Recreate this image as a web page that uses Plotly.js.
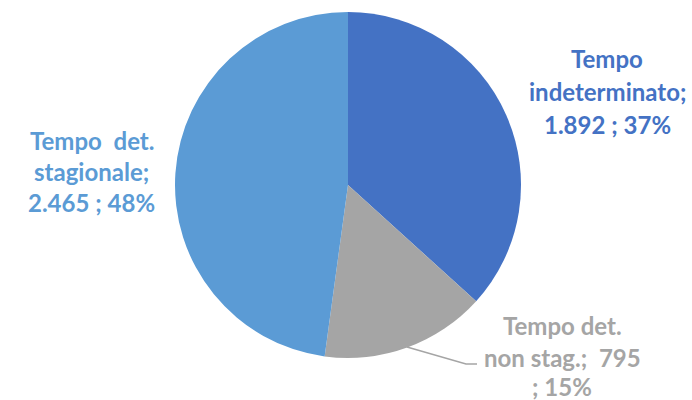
<!DOCTYPE html>
<html>
<head>
<meta charset="utf-8">
<script src="https://cdn.plot.ly/plotly-3.0.1.min.js"></script>
<style>html,body{margin:0;padding:0;background:#fff;}#chart{width:692px;height:400px;}</style>
</head>
<body>
<div id="chart"></div>
<script>
// Data
const categories = ["Tempo indeterminato", "Tempo det. non stag.", "Tempo det. stagionale"];
const values = [1892, 795, 2465];
const labelLines = [
  ["Tempo", "indeterminato;", "{v} ; {p}%"],
  ["Tempo det.", "non stag.;\u00A0\u00A0{v}", "; {p}%"],
  ["Tempo\u00A0\u00A0det.", "stagionale;", "{v} ; {p}%"]
];

// Styles
const colors = ["#4472C4", "#A5A5A5", "#5B9BD5"];
const W = 692, H = 400;
const cx = 348, cy = 185, r = 173;
const labelAnchors = [
  {x: 607, y: [58, 91, 124]},
  {x: 562, y: [325, 357, 386]},
  {x: 92, y: [140, 171, 203]}
];

const total = values.reduce((a, b) => a + b, 0);
function fmt(n) { return n.toString().replace(/\B(?=(\d{3})+(?!\d))/g, "."); }

const annotations = [];
labelLines.forEach((lines, i) => {
  const pct = Math.round(values[i] / total * 100);
  lines.forEach((ln, j) => {
    annotations.push({
      xref: "paper", yref: "paper",
      x: labelAnchors[i].x / W, y: 1 - labelAnchors[i].y[j] / H,
      xanchor: "center", yanchor: "middle",
      showarrow: false,
      borderpad: 0,
      text: "<b>" + ln.replace("{v}", fmt(values[i])).replace("{p}", pct) + "</b>",
      font: {family: "Lato, 'Open Sans', sans-serif", size: 24, color: colors[i]}
    });
  });
});

const trace = {
  type: "pie",
  labels: categories,
  values: values,
  sort: false,
  direction: "clockwise",
  rotation: 0,
  textinfo: "none",
  hoverinfo: "label+value+percent",
  marker: {colors: colors, line: {color: "#ffffff", width: 0}},
  domain: {x: [(cx - r) / W, (cx + r) / W], y: [1 - (cy + r) / H, 1 - (cy - r) / H]},
  showlegend: false
};

const p = (x, y) => (x / W) + "," + (1 - y / H);
const layout = {
  width: W, height: H,
  margin: {l: 0, r: 0, t: 0, b: 0},
  paper_bgcolor: "#ffffff",
  plot_bgcolor: "#ffffff",
  showlegend: false,
  annotations: annotations,
  shapes: [{
    type: "path", xref: "paper", yref: "paper",
    path: "M" + p(407, 347) + " L" + p(466, 364) + " L" + p(477, 364),
    line: {color: "#A5A5A5", width: 1.5}
  }]
};

Plotly.newPlot("chart", [trace], layout, {displayModeBar: false, staticPlot: true});
</script>
</body>
</html>
